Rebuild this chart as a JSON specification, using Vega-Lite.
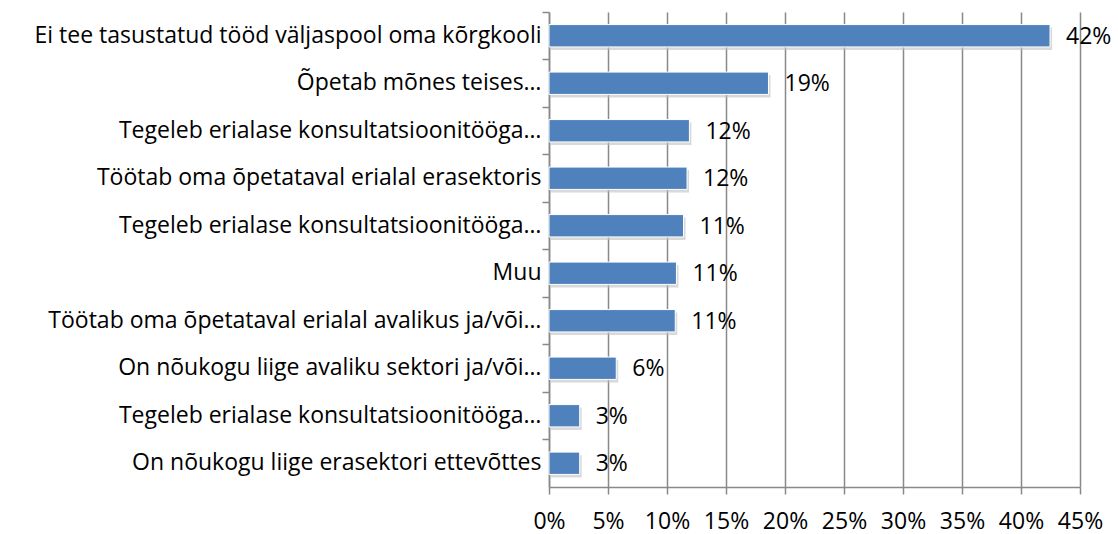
{
  "$schema": "https://vega.github.io/schema/vega-lite/v6.json",
  "width": 531,
  "height": 475,
  "autosize": {"type": "none"},
  "padding": {"left": 549, "top": 12, "right": 38, "bottom": 47},
  "background": "white",
  "config": {
    "view": {"stroke": null},
    "font": "Open Sans",
    "axis": {"labelFont": "Open Sans", "labelColor": "#000000", "labelFontSize": 23}
  },
  "data": {
    "values": [
      {"label": "Ei tee tasustatud tööd väljaspool oma kõrgkooli\u00a0", "value": 0.4246},
      {"label": "Õpetab mõnes teises…", "value": 0.186},
      {"label": "Tegeleb erialase konsultatsioonitööga…", "value": 0.119},
      {"label": "Töötab oma õpetataval erialal erasektoris\u00a0", "value": 0.117},
      {"label": "Tegeleb erialase konsultatsioonitööga…\u200b", "value": 0.114},
      {"label": "Muu\u00a0", "value": 0.108},
      {"label": "Töötab oma õpetataval erialal avalikus ja/või…", "value": 0.107},
      {"label": "On nõukogu liige avaliku sektori ja/või…", "value": 0.057},
      {"label": "Tegeleb erialase konsultatsioonitööga…\u200b\u200b", "value": 0.026},
      {"label": "On nõukogu liige erasektori ettevõttes\u00a0", "value": 0.026}
    ]
  },
  "encoding": {
    "y": {
      "field": "label",
      "type": "nominal",
      "sort": null,
      "scale": {"paddingInner": 0, "paddingOuter": 0},
      "axis": null
    },
    "x": {
      "field": "value",
      "type": "quantitative",
      "scale": {"domain": [0, 0.45], "nice": false, "zero": true}
    }
  },
  "layer": [
    {
      "mark": {"type": "rule", "color": "#898989", "strokeWidth": 1.5},
      "encoding": {
        "y": {"value": 0},
        "y2": {"value": 475},
        "x": {
          "field": "value",
          "type": "quantitative",
          "scale": {"domain": [0, 0.45], "nice": false},
          "axis": {
            "title": null,
            "format": ".0%",
            "values": [0, 0.05, 0.1, 0.15, 0.2, 0.25, 0.3, 0.35, 0.4, 0.45],
            "grid": true,
            "gridColor": "#898989",
            "gridWidth": 1.5,
            "gridOpacity": 1,
            "domainColor": "#898989",
            "domainWidth": 1.5,
            "tickColor": "#898989",
            "tickWidth": 1.5,
            "tickSize": 7,
            "labelPadding": 16,
            "labelFlush": false,
            "labelOverlap": false,
            "labelFontSize": 23
          }
        },
        "opacity": {"value": 0}
      }
    },
    {
      "mark": {"type": "bar", "color": "#bfbfbf", "opacity": 0.6, "height": {"band": 0.47}, "xOffset": 2, "yOffset": 3},
      "encoding": {
        "y": {
          "field": "label",
          "type": "nominal",
          "sort": null,
          "axis": {
            "title": null,
            "domainColor": "#898989",
            "domainWidth": 1.5,
            "ticks": false,
            "labelPadding": 8,
            "labelFontSize": 23,
            "labelLimit": 600
          }
        }
      }
    },
    {
      "mark": {"type": "bar", "color": "#4F81BD", "stroke": "#ffffff", "strokeWidth": 1, "height": {"band": 0.47}}
    },
    {
      "mark": {"type": "text", "align": "left", "baseline": "middle", "dx": 16, "dy": 1, "fontSize": 23, "color": "#000000", "font": "Open Sans"},
      "encoding": {
        "text": {"field": "value", "type": "quantitative", "format": ".0%"}
      }
    },
    {
      "mark": {"type": "tick", "opacity": 0},
      "encoding": {
        "y": {
          "field": "label",
          "type": "nominal",
          "sort": null,
          "axis": {
            "title": null,
            "orient": "left",
            "labels": false,
            "domain": false,
            "bandPosition": 0,
            "ticks": true,
            "tickColor": "#898989",
            "tickWidth": 1.5,
            "tickSize": 7
          }
        }
      }
    }
  ],
  "resolve": {"axis": {"y": "independent"}}
}
